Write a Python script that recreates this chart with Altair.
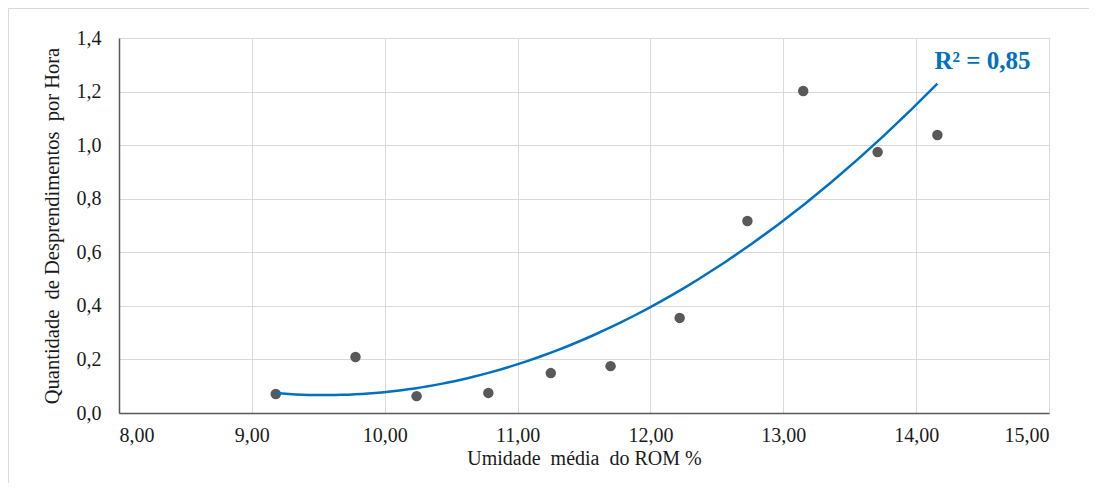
import altair as alt
import pandas as pd

umidade = [9.18, 9.78, 10.24, 10.78, 11.25, 11.70, 12.22, 12.73, 13.15, 13.71, 14.16]
desprend = [0.071, 0.209, 0.063, 0.075, 0.149, 0.175, 0.355, 0.717, 1.202, 0.974, 1.038]
r2_label = ["R² = 0,85"]
r2_pos_x = [14.5]
r2_pos_y = [1.315]

df = pd.DataFrame({"x": umidade, "y": desprend})
lab = pd.DataFrame({"x": r2_pos_x, "y": r2_pos_y, "t": r2_label})

FONT = "Liberation Serif"

xscale = alt.Scale(domain=[8, 15], nice=False, zero=False)
yscale = alt.Scale(domain=[0, 1.4], nice=False)

xaxis = alt.Axis(
    title="Umidade\u00a0 média\u00a0 do ROM %",
    values=[8, 9, 10, 11, 12, 13, 14, 15],
    labelExpr="replace(format(datum.value, '.2f'), '.', ',')",
    labelPadding=12,
    titlePadding=3,
    titleFontSize=20,
)
yaxis = alt.Axis(
    title="Quantidade\u00a0 de Desprendimentos\u00a0 por Hora",
    values=[0, 0.2, 0.4, 0.6, 0.8, 1.0, 1.2, 1.4],
    labelExpr="replace(format(datum.value, '.1f'), '.', ',')",
    labelPadding=18,
    titlePadding=14,
    titleFontSize=20.5,
)

base = alt.Chart(df)

frame_left = alt.Chart(lab).mark_rule(stroke="#d9d9d9", strokeWidth=1).encode(
    x=alt.value(-110.5), y=alt.value(-29.5), y2=alt.value(700)
)
frame_top = alt.Chart(lab).mark_rule(stroke="#d9d9d9", strokeWidth=1).encode(
    x=alt.value(-110.5), x2=alt.value(1300), y=alt.value(-29.5)
)

points = base.mark_circle(size=110, color="#595959", opacity=1).encode(
    x=alt.X("x:Q", scale=xscale, axis=xaxis),
    y=alt.Y("y:Q", scale=yscale, axis=yaxis),
)

trend = base.transform_regression(
    "x", "y", method="poly", order=2
).mark_line(color="#0070C0", strokeWidth=2.5).encode(
    x=alt.X("x:Q", scale=xscale, axis=xaxis),
    y=alt.Y("y:Q", scale=yscale, axis=yaxis),
)

text = alt.Chart(lab).mark_text(
    font=FONT, fontSize=25, fontWeight="bold", color="#0070C0", align="center", baseline="middle"
).encode(
    x=alt.X("x:Q", scale=xscale, axis=xaxis),
    y=alt.Y("y:Q", scale=yscale, axis=yaxis),
    text="t:N",
)

chart = alt.layer(points, trend, text, frame_left, frame_top).properties(
    width=930, height=375,
    background="white",
    autosize=alt.AutoSizeParams(type="none"),
    padding={"left": 111, "top": 30, "right": 40, "bottom": 70},
).configure_view(
    stroke="#d9d9d9", strokeWidth=1
).configure_axis(
    labelFont=FONT, labelFontSize=20, labelColor="#1a1a1a",
    titleFont=FONT, titleFontWeight="normal", titleColor="#1a1a1a",
    grid=True, gridColor="#d9d9d9", gridWidth=1,
    domainColor="#595959", domainWidth=1.5,
    ticks=False,
)

chart.save("out.html", embed_options={"renderer": "svg", "actions": False})
